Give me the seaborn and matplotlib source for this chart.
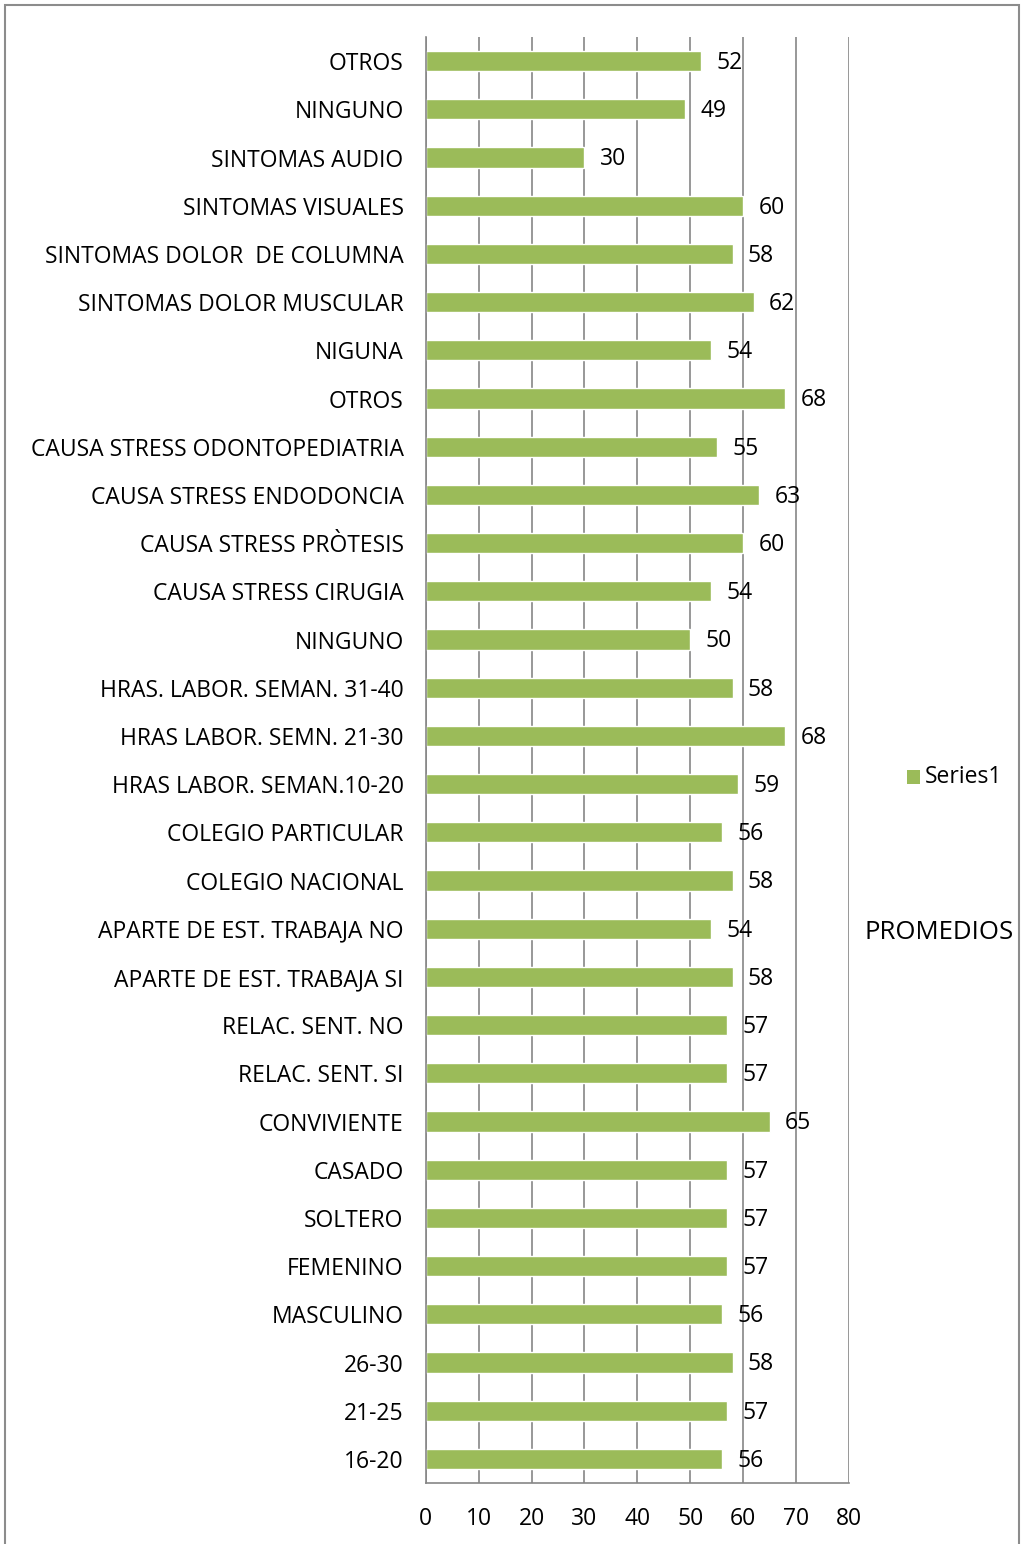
import matplotlib
matplotlib.use("Agg")
import matplotlib.pyplot as plt
import seaborn as sns
import pandas as pd
import numpy as np

# categories listed top to bottom as in the chart
# (trailing spaces keep repeated names as separate rows; stripped for the tick labels)
categories = [
    "OTROS", "NINGUNO", "SINTOMAS AUDIO", "SINTOMAS VISUALES",
    "SINTOMAS DOLOR  DE COLUMNA", "SINTOMAS DOLOR MUSCULAR", "NIGUNA", "OTROS ",
    "CAUSA STRESS ODONTOPEDIATRIA", "CAUSA STRESS ENDODONCIA", "CAUSA STRESS PRÒTESIS",
    "CAUSA STRESS CIRUGIA", "NINGUNO ", "HRAS. LABOR. SEMAN. 31-40",
    "HRAS LABOR. SEMN. 21-30", "HRAS LABOR. SEMAN.10-20", "COLEGIO PARTICULAR",
    "COLEGIO NACIONAL", "APARTE DE EST. TRABAJA NO", "APARTE DE EST. TRABAJA SI",
    "RELAC. SENT. NO", "RELAC. SENT. SI", "CONVIVIENTE", "CASADO", "SOLTERO",
    "FEMENINO", "MASCULINO", "26-30", "21-25", "16-20",
]
values = [52, 49, 30, 60, 58, 62, 54, 68, 55, 63, 60, 54, 50, 58, 68, 59,
          56, 58, 54, 58, 57, 57, 65, 57, 57, 57, 56, 58, 57, 56]
series_name = "Series1"
axis_title = "PROMEDIOS"

df = pd.DataFrame({"cat": categories, "val": values, "series": series_name})

sns.set_style("white")
plt.rcParams["font.family"] = ["Open Sans", "DejaVu Sans"]
plt.rcParams["text.color"] = "black"
plt.rcParams["xtick.color"] = "black"
plt.rcParams["ytick.color"] = "black"

bar_color = "#9BBB59"
grid_color = "#868686"
fs = 16.5

fig = plt.figure(figsize=(10.21, 15.44), dpi=100)
ax = fig.add_axes([0.417, 0.0395, 0.4145, 0.9365])

sns.barplot(data=df, x="val", y="cat", hue="series", palette=[bar_color],
            width=0.42, ax=ax, saturation=1, legend=False)

ax.set_xlim(0, 80)
ax.set_xticks(np.arange(0, 81, 10))
ax.set_ylim(len(categories) - 0.5, -0.5)
ax.xaxis.grid(True, color=grid_color, linewidth=1.2)
ax.set_axisbelow(True)

# tick marks between categories on the y axis
ax.set_yticks(np.arange(len(categories)))
ax.set_yticklabels([c.strip() for c in categories], fontsize=fs)
ax.tick_params(axis="y", length=0, pad=16)
ax.set_yticks(np.arange(-0.5, len(categories), 1), minor=True)
ax.tick_params(axis="y", which="minor", length=5, color=grid_color, width=1.2)
ax.tick_params(axis="x", length=5, color=grid_color, width=1.2, labelsize=fs,
               labelcolor="black", pad=12)

for s in ["top", "right"]:
    ax.spines[s].set_visible(False)
for s in ["left", "bottom"]:
    ax.spines[s].set_color(grid_color)
    ax.spines[s].set_linewidth(1.2)

ax.set_xlabel("")
ax.set_ylabel("")

for i, v in enumerate(values):
    ax.text(v + 2.9, i + 0.04, str(v), va="center", ha="left", fontsize=fs)

# legend and axis title on the right
fig.patches.append(plt.Rectangle((0.888, 0.4925), 0.013, 0.0085, transform=fig.transFigure,
                                 facecolor=bar_color, edgecolor="none"))
fig.text(0.906, 0.4968, series_name, fontsize=fs, va="center", ha="left")
fig.text(0.847, 0.396, axis_title, fontsize=18.5, va="center", ha="left")

# outer chart frame
fig.patches.append(plt.Rectangle((0.005, -0.01), 0.993, 1.007, transform=fig.transFigure,
                                 facecolor="none", edgecolor="#8C8C8C", linewidth=1.5))

fig.savefig("out.png", dpi=100)
